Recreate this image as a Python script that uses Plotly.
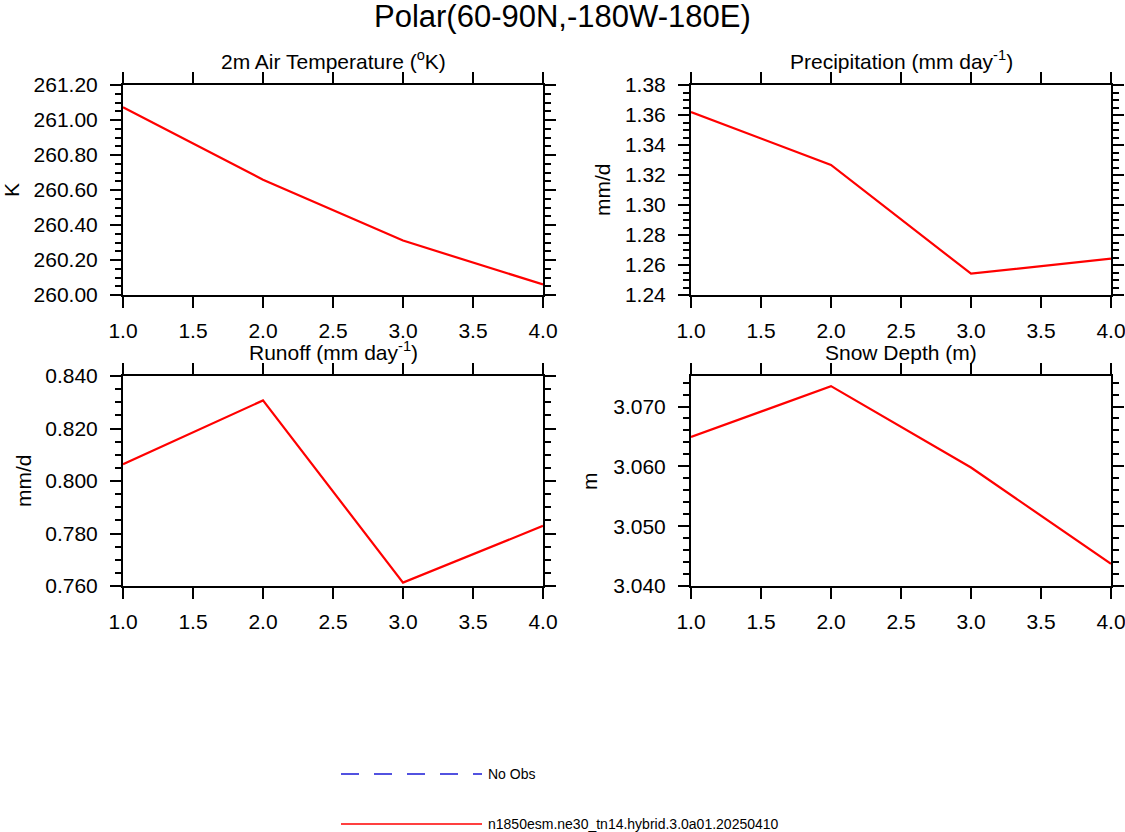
import plotly.graph_objects as go
from plotly.subplots import make_subplots

# x positions (same for all panels)
x_vals = [1, 2, 3, 4]

# values
tsa_vals = [261.073, 260.659, 260.311, 260.060]
prect_vals = [1.3620, 1.3267, 1.2542, 1.2642]
runoff_vals = [0.8064, 0.8307, 0.7613, 0.7829]
snowdp_vals = [3.0649, 3.0734, 3.0598, 3.0437]

panel_titles = ["2m Air Temperature (<sup>o</sup>K)", "Precipitation (mm day<sup>-1</sup>)",
                "Runoff (mm day<sup>-1</sup>)", "Snow Depth (m)"]
y_titles = ["K", "mm/d", "mm/d", "m"]
legend_labels = ["No Obs", "n1850esm.ne30_tn14.hybrid.3.0a01.20250410"]

FONT = "Liberation Sans, Arial, Helvetica, sans-serif"
W, H = 1125, 832

fig = make_subplots(rows=2, cols=2)

series = [tsa_vals, prect_vals, runoff_vals, snowdp_vals]
cells = [(1, 1), (1, 2), (2, 1), (2, 2)]
for vals, (r, c) in zip(series, cells):
    fig.add_trace(go.Scatter(x=x_vals, y=vals, mode="lines",
                             line=dict(color="#ff0000", width=2.2),
                             showlegend=False, hoverinfo="skip"), row=r, col=c)

# panel boxes in pixels: (left, right, top, bottom)
boxes = [(123, 543, 85, 295), (691, 1111, 85, 295),
         (123, 543, 376, 586), (691, 1111, 376, 586)]

yspecs = [
    dict(range=[260.0, 261.2], dtick=0.2, tick0=260.0, fmt=".2f", minor=0.05),
    dict(range=[1.24, 1.38], dtick=0.02, tick0=1.24, fmt=".2f", minor=0.005),
    dict(range=[0.76, 0.84], dtick=0.02, tick0=0.76, fmt=".3f", minor=0.005),
    dict(range=[3.040, 3.0751], dtick=0.01, tick0=3.04, fmt=".3f", minor=0.002),
]
ytitle_x = [12, 603, 23, 589]

axis_common = dict(showline=True, linecolor="black", linewidth=2, mirror="ticks",
                   ticks="outside", ticklen=11, tickwidth=2, tickcolor="black",
                   showgrid=False, zeroline=False, automargin=False,
                   ticklabeloverflow="allow",
                   tickfont=dict(family=FONT, size=21, color="black"))

for i, ((l, rr, t, b), ys) in enumerate(zip(boxes, yspecs)):
    n = "" if i == 0 else str(i + 1)
    fig.layout["xaxis" + n].update(
        domain=[l / W, rr / W], range=[1, 4], dtick=0.5, tick0=1.0,
        tickformat=".1f", ticklabelstandoff=5, **axis_common)
    fig.layout["yaxis" + n].update(
        domain=[1 - b / H, 1 - t / H], range=ys["range"], dtick=ys["dtick"],
        tick0=ys["tick0"], tickformat=ys["fmt"], ticklabelstandoff=8,
        minor=dict(dtick=ys["minor"], ticks="outside", ticklen=6, tickwidth=1.5,
                   tickcolor="black", showgrid=False),
        **axis_common)
    # panel title
    fig.add_annotation(text=panel_titles[i], xref="paper", yref="paper",
                       x=(l + rr) / 2 / W, y=1 - (t - 10) / H, xanchor="center",
                       yanchor="bottom", showarrow=False,
                       font=dict(family=FONT, size=21, color="black"))
    # y axis title
    fig.add_annotation(text=y_titles[i], xref="paper", yref="paper",
                       x=ytitle_x[i] / W, y=1 - (t + b) / 2 / H, xanchor="center",
                       yanchor="middle", textangle=-90, showarrow=False,
                       font=dict(family=FONT, size=21, color="black"))

# main title
fig.add_annotation(text="Polar(60-90N,-180W-180E)", xref="paper", yref="paper",
                   x=0.5, y=1 - 16 / H, xanchor="center", yanchor="middle",
                   showarrow=False, font=dict(family=FONT, size=31, color="black"))

# legend drawn below the panels
leg_y = [774, 824]
leg_dash = ["18px,15px", "solid"]
leg_color = ["#1a1ad6", "#ff0000"]
for lab, yy, dsh, col in zip(legend_labels, leg_y, leg_dash, leg_color):
    fig.add_shape(type="line", xref="paper", yref="paper",
                  x0=341 / W, x1=482 / W, y0=1 - yy / H, y1=1 - yy / H,
                  line=dict(color=col, width=1.5, dash=dsh))
    fig.add_annotation(text=lab, xref="paper", yref="paper", x=486 / W,
                       y=1 - yy / H, xanchor="left", yanchor="middle",
                       showarrow=False, font=dict(family=FONT, size=14, color="black"))

fig.update_layout(width=W, height=H, margin=dict(l=0, r=0, t=0, b=0),
                  paper_bgcolor="white", plot_bgcolor="white", showlegend=False)

# drop the page's default body margin so the figure sits at the window corner
fig.write_html("out.html", config={"displayModeBar": False},
               post_script="document.body.style.margin='0';")
